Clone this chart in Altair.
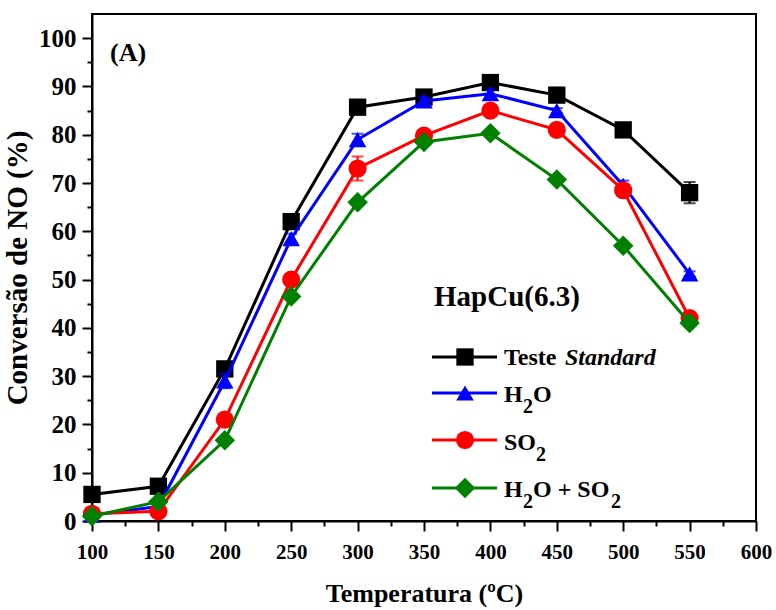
import altair as alt
import pandas as pd

# ---- data ----
temps = [100, 150, 200, 250, 300, 350, 400, 450, 500, 550]
std = [5.5, 7.2, 31.5, 62.0, 85.7, 87.8, 90.8, 88.2, 81.0, 68.0]
std_err = [1.0, 0.5, 0.5, 0.5, 0.5, 0.5, 0.5, 0.5, 0.5, 2.2]
h2o = [1.2, 3.0, 29.0, 58.5, 79.0, 87.0, 88.5, 85.0, 69.5, 51.2]
h2o_err = [0.5, 1.0, 1.5, 1.0, 1.2, 0.8, 0.8, 0.5, 1.0, 0.5]
so2 = [1.5, 2.0, 21.0, 50.0, 73.0, 79.8, 85.0, 81.0, 68.5, 42.0]
so2_err = [1.0, 0.5, 0.5, 0.5, 2.5, 0.5, 0.5, 0.5, 1.2, 1.0]
mix = [1.0, 4.0, 16.7, 46.5, 66.0, 78.5, 80.3, 70.7, 57.0, 41.0]
mix_err = [0.3, 0.5, 0.5, 0.5, 0.5, 0.5, 0.5, 0.5, 0.5, 0.5]

series_names = ["Teste Standard", "H2O", "SO2", "H2O + SO2"]
series_vals = [std, h2o, so2, mix]
series_errs = [std_err, h2o_err, so2_err, mix_err]
colors = ["#000000", "#0000ff", "#ff0000", "#008000"]
shapes = ["square", "triangle-up", "circle", "diamond"]
sizes = [300, 310, 330, 420]

FONT = "Liberation Serif"
W, H = 664, 507

xscale = alt.Scale(domain=[100, 600], nice=False, zero=False)
yscale = alt.Scale(domain=[0, 105], nice=False, zero=True)

xaxis = alt.Axis(
    values=list(range(100, 601, 25)),
    labelExpr="datum.value % 50 === 0 ? datum.label : ''",
    tickSize={"condition": {"test": "datum.value % 50 !== 0", "value": 5}, "value": 10},
    title="Temperatura (ºC)",
    labelFont=FONT, labelFontSize=21, labelFontWeight="bold", labelColor="black",
    titleFont=FONT, titleFontSize=26, titleFontWeight="bold", titleColor="black",
    labelPadding=10, titlePadding=18, labelFlush=False, labelOverlap=False,
    domainColor="black", domainWidth=2, tickColor="black", tickWidth=2, grid=False,
)
yaxis = alt.Axis(
    values=list(range(0, 101, 5)),
    labelExpr="datum.value % 10 === 0 ? datum.label : ''",
    tickSize={"condition": {"test": "datum.value % 10 !== 0", "value": 5}, "value": 10},
    title="Conversão de NO (%)",
    labelFont=FONT, labelFontSize=25, labelFontWeight="bold", labelColor="black",
    titleFont=FONT, titleFontSize=29, titleFontWeight="bold", titleColor="black",
    labelPadding=6, titlePadding=6, labelFlush=False, labelOverlap=False,
    domainColor="black", domainWidth=2, tickColor="black", tickWidth=2, grid=False,
)

layers = []
for name, vals, errs, col, shp, sz in zip(series_names, series_vals, series_errs, colors, shapes, sizes):
    df = pd.DataFrame({"T": temps, "v": vals,
                       "lo": [v - e for v, e in zip(vals, errs)],
                       "hi": [v + e for v, e in zip(vals, errs)]})
    base = alt.Chart(df)
    xenc = alt.X("T:Q", scale=xscale, axis=xaxis)
    yenc = alt.Y("v:Q", scale=yscale, axis=yaxis)
    line = base.mark_line(color=col, strokeWidth=3).encode(x=xenc, y=yenc)
    pts = base.mark_point(shape=shp, size=sz, filled=True, color=col, opacity=1).encode(x=xenc, y=yenc)
    err = base.mark_errorbar(ticks={"size": 12, "thickness": 2}, color=col, thickness=2).encode(
        x=xenc, y=alt.Y("lo:Q", scale=yscale, axis=yaxis), y2="hi:Q")
    layers += [line, pts, err]

# ---- in-plot annotations and legend ----
one = pd.DataFrame({"a": [0]})


def txt(s, x, y, size, style="normal"):
    return alt.Chart(one).mark_text(
        font=FONT, fontSize=size, fontWeight="bold", fontStyle=style, color="black",
        align="left", baseline="alphabetic").encode(
        x=alt.value(x), y=alt.value(y), text=alt.value(s))


layers.append(txt("(A)", 18, 47, 26))
layers.append(txt("HapCu(6.3)", 342, 292, 29))

leg_y = [343, 379, 426, 474]
leg_base = [351, 388, 436, 483]
seg_x0, seg_x1, mk_x = 340, 405, 373
for i, (col, shp, sz) in enumerate(zip(colors, shapes, sizes)):
    yy = leg_y[i]
    layers.append(alt.Chart(one).mark_rule(color=col, strokeWidth=3).encode(
        x=alt.value(seg_x0), x2=alt.value(seg_x1), y=alt.value(yy)))
    layers.append(alt.Chart(one).mark_point(shape=shp, size=sz, filled=True, color=col, opacity=1).encode(
        x=alt.value(mk_x), y=alt.value(yy)))

legend_parts = [
    [("Teste ", 412, 0, 24, "normal"), ("Standard", 473, 0, 24, "italic")],
    [("H", 412, 0, 24, "normal"), ("2", 431, 11, 20, "normal"), ("O", 441, 0, 24, "normal")],
    [("SO", 412, 0, 24, "normal"), ("2", 444, 11, 20, "normal")],
    [("H", 412, 0, 24, "normal"), ("2", 431, 11, 20, "normal"), ("O + SO", 441, 0, 24, "normal"),
     ("2", 519, 11, 20, "normal")],
]
for i, parts in enumerate(legend_parts):
    for s, x, dy, fs, st in parts:
        layers.append(txt(s, x, leg_base[i] + dy, fs, st))

chart = alt.layer(*layers).properties(
    width=W, height=H,
    autosize="none",
    background="white",
    padding={"left": 92, "top": 14, "right": 20, "bottom": 89},
).configure_view(stroke="black", strokeWidth=2)

chart.save("out.html", embed_options={"renderer": "svg", "actions": False})
